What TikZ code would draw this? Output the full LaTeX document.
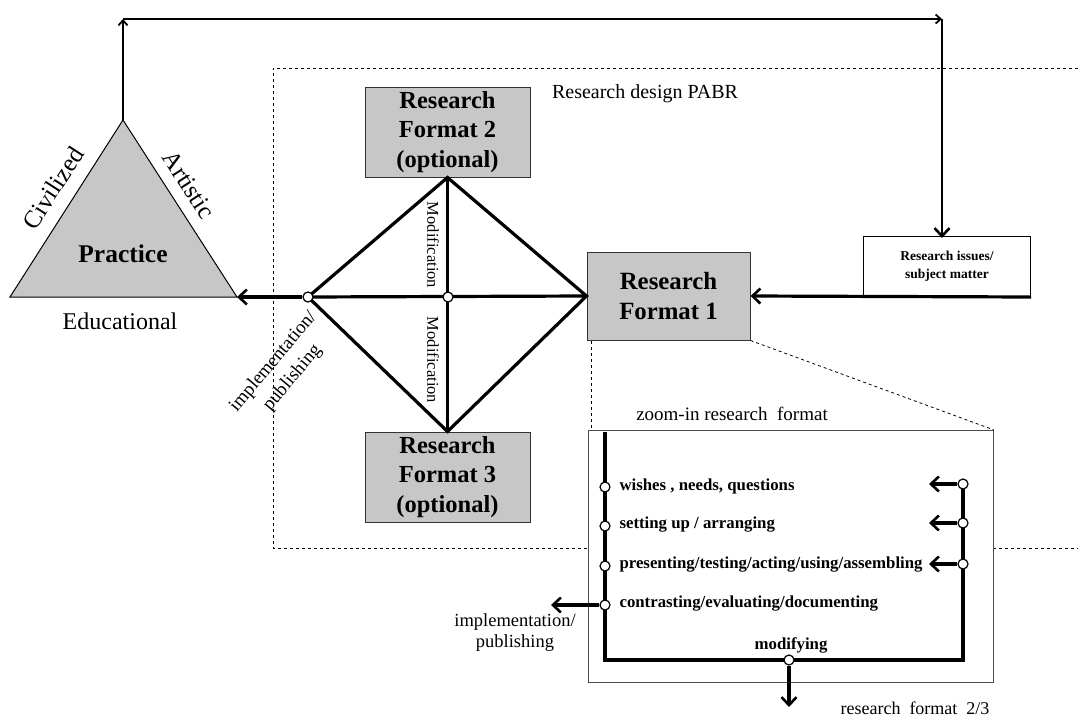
\documentclass[tikz,border=0pt]{standalone}
\usepackage{fontspec}
\setmainfont{Liberation Serif}
\usetikzlibrary{arrows.meta}
\definecolor{boxgray}{gray}{0.78}
\tikzset{
  thick line/.style={line width=3.2pt},
  tip/.style={-{Straight Barb[length=8pt,width=15pt,line width=2.6pt]}},
  rf/.style={draw=black!80, line width=1pt, fill=boxgray, minimum width=165pt, minimum height=90pt, align=center, font=\bfseries\fontsize{24.5}{29.5}\selectfont},
  dot/.style={circle, draw, fill=white, line width=1.2pt, inner sep=0pt, minimum size=10pt},
  steptext/.style={anchor=west, font=\bfseries\fontsize{16.8}{18}\selectfont},
}
\begin{document}
\begin{tikzpicture}[x=1pt,y=-1pt]
\useasboundingbox (0,0) rectangle (1078,717);
% triangle
\coordinate (tl) at (10,297);
\coordinate (tr) at (237,297);
\coordinate (apex) at (123,120);
\draw[fill=boxgray, line width=1pt] (tl) -- (tr) -- (apex) -- cycle;
\node[font=\bfseries\fontsize{25.5}{28}\selectfont] (practice) at (123,254) {Practice};
\node[font=\fontsize{25}{27}\selectfont, rotate=57] (civ) at (53,188) {Civilized};
\node[font=\fontsize{25}{27}\selectfont, rotate=-57] (art) at (189,185) {Artistic};
\node[font=\fontsize{24}{26}\selectfont] (edu) at (120,321) {Educational};
% dashed research design frame
\draw[dashed, line width=0.8pt] (1078,68) -- (273,68) -- (273,548) -- (588,548);
\draw[dashed, line width=0.8pt] (993,548) -- (1078,548);
\node[font=\fontsize{20}{22}\selectfont] (pabr) at (645,94) {Research design PABR};
% research format boxes
\node[rf] (rf2) at (447.5,132) {Research\\Format 2\\(optional)};
\node[rf] (rf3) at (447.5,477) {Research\\Format 3\\(optional)};
\node[rf, minimum width=163pt, minimum height=88pt, font=\bfseries\fontsize{24.8}{30}\selectfont] (rf1) at (668.5,296) {Research\\Format 1};
\node[draw, line width=1pt, minimum width=167pt, minimum height=60pt, align=center, font=\bfseries\fontsize{13.5}{18}\selectfont, anchor=south west] (issues) at (863,297) {Research issues/\\subject matter};
% diamond
\coordinate (dl) at (308,297);
\coordinate (dc) at (448,297);
\draw[thick line, line join=miter] (dl) -- (rf2.south) -- (rf1.west) -- (rf3.north) -- cycle;
\draw[thick line] (dl) -- (rf1.west);
\draw[thick line] (rf2.south) -- (rf3.north);
\node[dot] (ldot) at (dl) {};
\node[dot] (cdot) at (dc) {};
\node[font=\fontsize{16.5}{18}\selectfont, rotate=-90] (mod1) at (433,245) {Modification};
\node[font=\fontsize{16.5}{18}\selectfont, rotate=-90] (mod2) at (433,360) {Modification};
\node[font=\fontsize{19}{25}\selectfont, rotate=50, align=center] (impl1) at (283,370) {implementation/\\publishing};
% main arrows
\draw[thick line, tip] (ldot) -- (tr);
\draw[thick line, tip] (issues.south east) -- (rf1.east);
\coordinate (c1) at (123,19);
\coordinate (c2) at (942,19);
\draw[line width=2.4pt, -{Straight Barb[length=5pt,width=9pt,line width=1.8pt]}] (apex) -- (c1);
\draw[line width=2.4pt, -{Straight Barb[length=5pt,width=9pt,line width=1.8pt]}] (c1) -- (c2);
\draw[line width=2.4pt, tip] (c2) -- (942,238);
% zoom box
\node[draw=black!70, line width=1pt, minimum width=405pt, minimum height=252pt, anchor=north west, inner sep=0pt] (zoom) at (588,430) {};
\node[font=\fontsize{19}{21}\selectfont] (zt) at (732,414) {zoom-in research\ \ format};
\draw[dashed, line width=0.8pt] (591,341) -- (591,430);
\draw[dashed, line width=0.8pt] (rf1.south east) -- (zoom.north east);
% inner flow
\coordinate (ltop) at (605,432);
\coordinate (lbot) at (605,660);
\coordinate (rbot) at (963,660);
\coordinate (rtop) at (963,484);
\draw[thick line] (ltop) -- (lbot) -- (rbot) -- (rtop);
\node[dot] (w1) at (605,487) {};
\node[dot] (w2) at (605,526) {};
\node[dot] (w3) at (605,566) {};
\node[dot] (w4) at (605,605) {};
\node[dot] (r1) at (963,484) {};
\node[dot] (r2) at (963,523) {};
\node[dot] (r3) at (963,564) {};
\node[dot] (m) at (789,660) {};
\node[steptext] (s1) at (616,486) {wishes , needs, questions};
\node[steptext] (s2) at (616,525) {setting up / arranging};
\node[steptext] (s3) at (616,565) {presenting/testing/acting/using/assembling};
\node[steptext] (s4) at (616,604) {contrasting/evaluating/documenting};
\node[font=\bfseries\fontsize{16.8}{18}\selectfont] (mtxt) at (791,645) {modifying};
\coordinate (a1) at (929,484);
\coordinate (a2) at (929,523);
\coordinate (a3) at (929,564);
\coordinate (a4) at (551,605);
\coordinate (a5) at (789,707);
\draw[thick line, tip] (r1) -- (a1);
\draw[thick line, tip] (r2) -- (a2);
\draw[thick line, tip] (r3) -- (a3);
\draw[thick line, tip] (w4) -- (a4);
\draw[thick line, tip] (m) -- (a5);
\node[font=\fontsize{18.5}{21}\selectfont, align=center] (impl2) at (515,633) {implementation/\\publishing};
\node[font=\fontsize{18}{20}\selectfont] (rf23) at (915,708) {research\ \ format\ \ 2/3};
\end{tikzpicture}
\end{document}
